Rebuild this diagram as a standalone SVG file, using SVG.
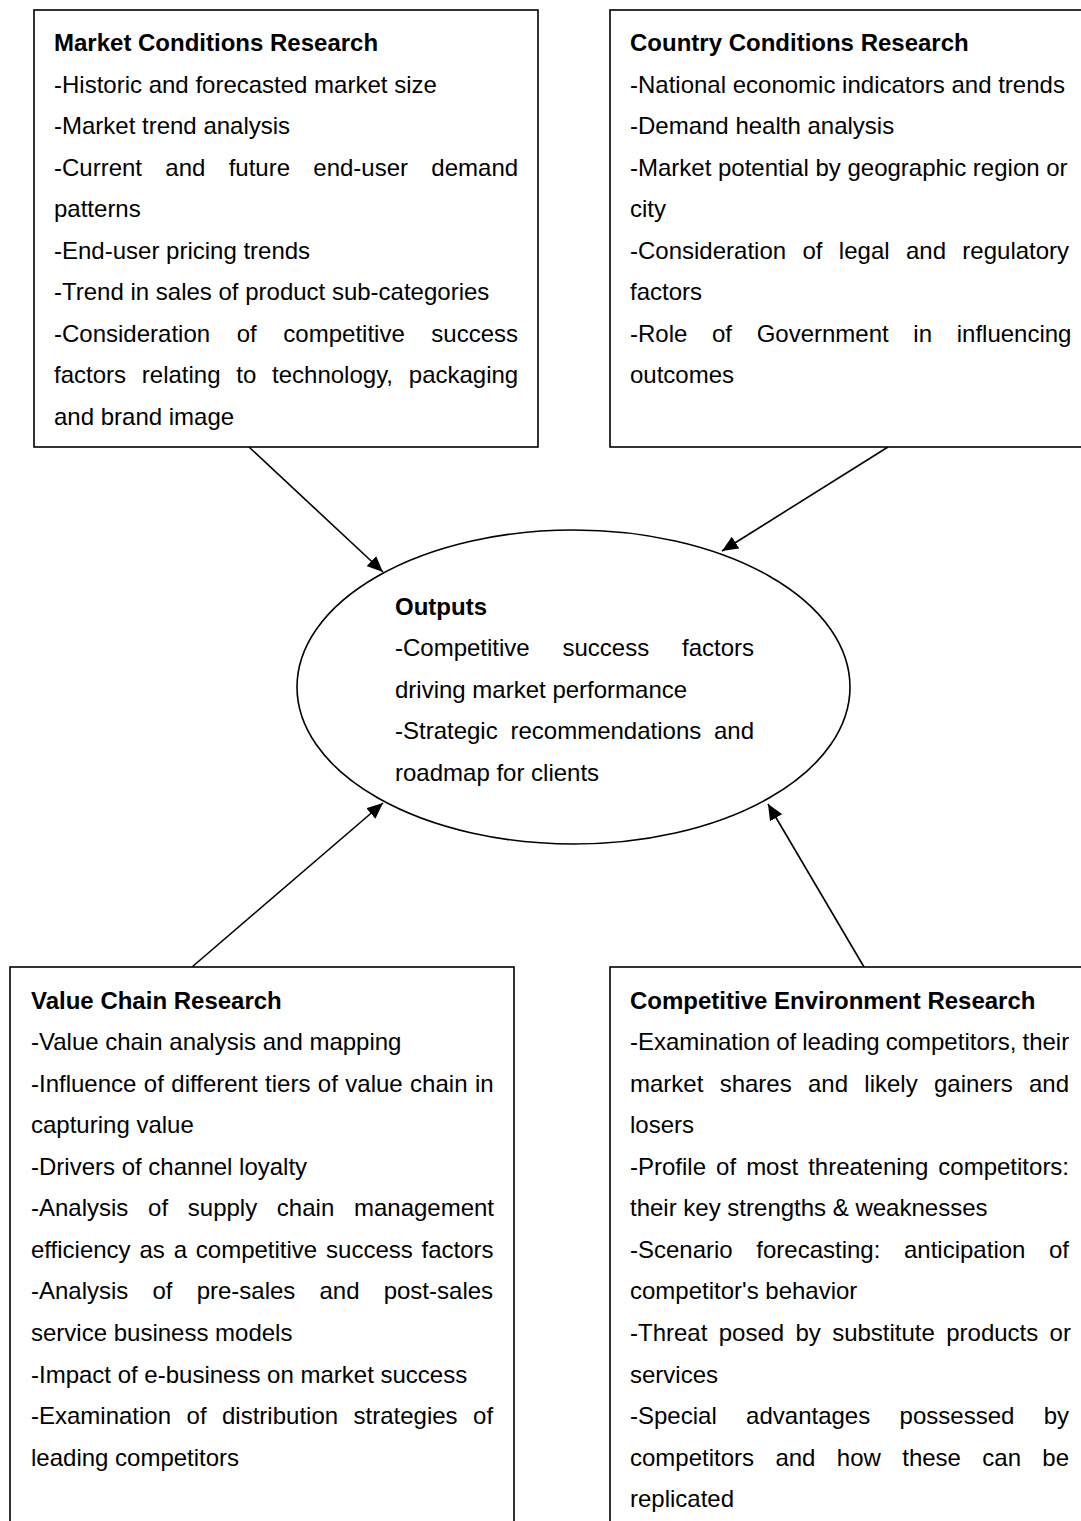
<svg xmlns="http://www.w3.org/2000/svg" width="1081" height="1521" viewBox="0 0 1081 1521">
<style>
.box{fill:#fff;stroke:#000;stroke-width:1.6}
.t{font-family:"Liberation Sans",Arial,sans-serif;font-size:24px;fill:#000}
.h{font-weight:bold}
.con{stroke:#000;stroke-width:1.6;fill:none;marker-end:url(#ah)}
</style>
<defs>
<marker id="ah" markerUnits="userSpaceOnUse" markerWidth="18" markerHeight="14" refX="16" refY="7" orient="auto">
<path d="M0,0 L16,7 L0,14 z" fill="#000"/>
</marker>
</defs>
<rect width="1081" height="1521" fill="#fff"/>
<g id="connectors">
<line class="con" x1="249" y1="447" x2="383" y2="572"/>
<line class="con" x1="888" y1="447" x2="722" y2="551"/>
<line class="con" x1="192" y1="967" x2="383" y2="803"/>
<line class="con" x1="864" y1="967" x2="768" y2="804"/>
</g>
<g id="market">
<rect class="box" x="34" y="10" width="504" height="437"/>
<text class="t h" x="54" y="51">Market Conditions Research</text>
<text class="t" x="54" y="92.5">-Historic and forecasted market size</text>
<text class="t" x="54" y="134">-Market trend analysis</text>
<text class="t" x="54" y="175.7" word-spacing="16.63">-Current and future end-user demand</text>
<text class="t" x="54" y="217.2">patterns</text>
<text class="t" x="54" y="258.8">-End-user pricing trends</text>
<text class="t" x="54" y="300.3">-Trend in sales of product sub-categories</text>
<text class="t" x="54" y="341.9" word-spacing="19.96">-Consideration of competitive success</text>
<text class="t" x="54" y="383.4" word-spacing="9.1">factors relating to technology, packaging</text>
<text class="t" x="54" y="425">and brand image</text>
</g>
<g id="country">
<rect class="box" x="610" y="10" width="490" height="437"/>
<text class="t h" x="630" y="51">Country Conditions Research</text>
<text class="t" x="630" y="92.5">-National economic indicators and trends</text>
<text class="t" x="630" y="134">-Demand health analysis</text>
<text class="t" x="630" y="175.7">-Market potential by geographic region or</text>
<text class="t" x="630" y="217.2">city</text>
<text class="t" x="630" y="258.8" word-spacing="9.71">-Consideration of legal and regulatory</text>
<text class="t" x="630" y="300.3">factors</text>
<text class="t" x="630" y="341.9" word-spacing="17.98">-Role of Government in influencing</text>
<text class="t" x="630" y="383.4">outcomes</text>
</g>
<g id="outputs">
<ellipse class="box" cx="573.5" cy="687" rx="276.5" ry="157"/>
<text class="t h" x="395" y="614.5">Outputs</text>
<text class="t" x="395" y="656" word-spacing="26.13">-Competitive success factors</text>
<text class="t" x="395" y="697.5">driving market performance</text>
<text class="t" x="395" y="739" word-spacing="6.1">-Strategic recommendations and</text>
<text class="t" x="395" y="780.5">roadmap for clients</text>
</g>
<g id="valuechain">
<rect class="box" x="10" y="967" width="504" height="570"/>
<text class="t h" x="31" y="1008.5">Value Chain Research</text>
<text class="t" x="31" y="1050">-Value chain analysis and mapping</text>
<text class="t" x="31" y="1091.6" word-spacing="0.78">-Influence of different tiers of value chain in</text>
<text class="t" x="31" y="1133.2">capturing value</text>
<text class="t" x="31" y="1174.7">-Drivers of channel loyalty</text>
<text class="t" x="31" y="1216.3" word-spacing="13.04">-Analysis of supply chain management</text>
<text class="t" x="31" y="1257.8" word-spacing="2.17">efficiency as a competitive success factors</text>
<text class="t" x="31" y="1299.4" word-spacing="17.47">-Analysis of pre-sales and post-sales</text>
<text class="t" x="31" y="1340.9">service business models</text>
<text class="t" x="31" y="1382.5">-Impact of e-business on market success</text>
<text class="t" x="31" y="1424" word-spacing="8.8">-Examination of distribution strategies of</text>
<text class="t" x="31" y="1465.6">leading competitors</text>
</g>
<g id="competitive">
<rect class="box" x="610" y="967" width="490" height="570"/>
<text class="t h" x="630" y="1008.5">Competitive Environment Research</text>
<text class="t" x="630" y="1050" word-spacing="-0.6">-Examination of leading competitors, their</text>
<text class="t" x="630" y="1091.6" word-spacing="9.64">market shares and likely gainers and</text>
<text class="t" x="630" y="1133.2">losers</text>
<text class="t" x="630" y="1174.7" word-spacing="3.38">-Profile of most threatening competitors:</text>
<text class="t" x="630" y="1216.3">their key strengths &amp; weaknesses</text>
<text class="t" x="630" y="1257.8" word-spacing="16.94">-Scenario forecasting: anticipation of</text>
<text class="t" x="630" y="1299.4">competitor's behavior</text>
<text class="t" x="630" y="1340.9" word-spacing="4.68">-Threat posed by substitute products or</text>
<text class="t" x="630" y="1382.5">services</text>
<text class="t" x="630" y="1424" word-spacing="22.72">-Special advantages possessed by</text>
<text class="t" x="630" y="1465.6" word-spacing="14.7">competitors and how these can be</text>
<text class="t" x="630" y="1507.1">replicated</text>
</g>
</svg>
